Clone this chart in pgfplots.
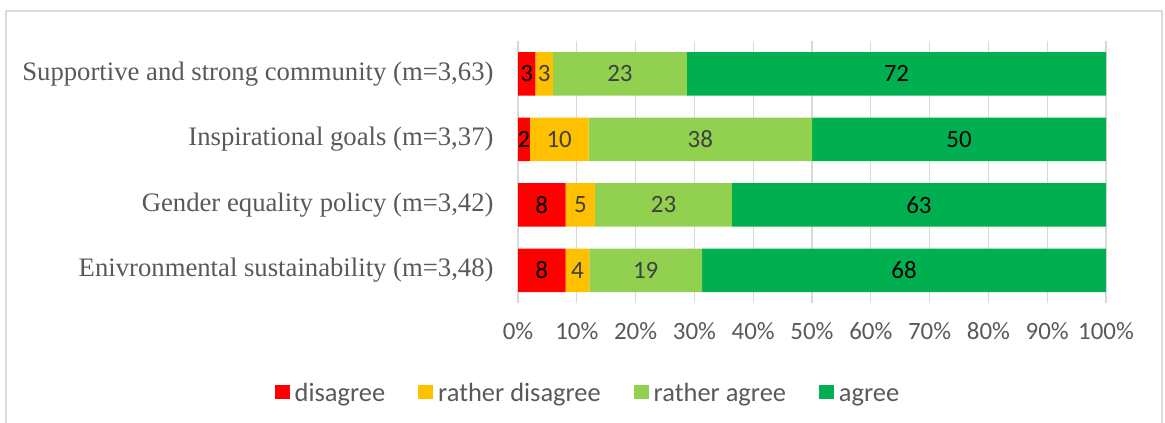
\documentclass[border=0pt]{standalone}
\usepackage{fontspec}
\setmainfont{Carlito}
\newfontfamily\catfont{Liberation Serif}
\usepackage{pgfplots}
\pgfplotsset{compat=1.18}
\usepackage{pgfplotstable}

\definecolor{cDis}{HTML}{FF0000}
\definecolor{cRDis}{HTML}{FFC000}
\definecolor{cRAg}{HTML}{92D050}
\definecolor{cAg}{HTML}{00B050}
\definecolor{txt}{HTML}{595959}
\definecolor{lbl}{HTML}{404040}
\definecolor{gridc}{HTML}{D9D9D9}

% answers per statement (percent of respondents)
\pgfplotstableread{
y d rd ra a
0 8 4 19 68
1 8 5 23 63
2 2 10 38 50
3 3 3 23 72
}\survey

% row total, used to scale each row to 100%
\newcommand\tot{(\thisrow{d}+\thisrow{rd}+\thisrow{ra}+\thisrow{a})}

\pgfplotsset{
  panel/.style={
    at={(518bp,-303bp)}, anchor=south west, scale only axis,
    width=588bp, height=262bp,
    xmin=0, xmax=100, ymin=-0.5, ymax=3.5, clip=false,
  },
  seglabel/.style={draw=none, mark=none, forget plot,
    every node near coord/.append style={text=#1}},
}

\begin{document}
\begin{tikzpicture}
\useasboundingbox (0,0) rectangle (1165bp,-423bp);
\draw[gridc, line width=1.5bp] (6bp,-11bp) rectangle (1162bp,-440bp);

\begin{axis}[panel, xbar stacked, bar width=43.5bp,
  axis line style={draw=none}, major tick length=0pt,
  xmajorgrids, grid style={gridc, line width=1.2bp},
  xtick={0,10,...,100},
  xticklabels={0\%,10\%,20\%,30\%,40\%,50\%,60\%,70\%,80\%,90\%,100\%},
  ytick={0,1,2,3},
  yticklabels={{Enivronmental sustainability (m=3,48)},
               {Gender equality policy (m=3,42)},
               {Inspirational goals (m=3,37)},
               {Supportive and strong community (m=3,63)}},
  yticklabel style={font=\catfont\fontsize{26.8}{30}\selectfont, text=txt, xshift=-21bp},
  xticklabel style={font=\fontsize{25}{29}\selectfont, text=txt, yshift=-16bp},
  legend columns=4,
  legend style={at={(0.119,-0.351)}, anchor=center, draw=none,
    font=\fontsize{26.5}{31}\selectfont, text=txt,
    nodes={text height=19bp, text depth=6bp},
    /tikz/every odd column/.append style={column sep=3bp},
    /tikz/every even column/.append style={column sep=31bp}},
  legend image code/.code={\fill[#1] (0bp,-4bp) rectangle (15bp,10bp);},
]
\addplot[fill=cDis, draw=none] table[x expr={100*\thisrow{d}/\tot}, y=y] \survey;
\addplot[fill=cRDis, draw=none] table[x expr={100*\thisrow{rd}/\tot}, y=y] \survey;
\addplot[fill=cRAg, draw=none] table[x expr={100*\thisrow{ra}/\tot}, y=y] \survey;
\addplot[fill=cAg, draw=none] table[x expr={100*\thisrow{a}/\tot}, y=y] \survey;
\legend{disagree, rather disagree, rather agree, agree}
\end{axis}

% value labels centred in each segment
\begin{axis}[panel, hide axis, point meta=explicit symbolic, nodes near coords,
  every node near coord/.append style={anchor=center, font=\fontsize{25}{29}\selectfont}]
\addplot[seglabel=black] table[x expr={100*(0.5*\thisrow{d})/\tot}, y=y, meta=d] \survey;
\addplot[seglabel=lbl] table[x expr={100*(\thisrow{d}+0.5*\thisrow{rd})/\tot}, y=y, meta=rd] \survey;
\addplot[seglabel=lbl] table[x expr={100*(\thisrow{d}+\thisrow{rd}+0.5*\thisrow{ra})/\tot}, y=y, meta=ra] \survey;
\addplot[seglabel=black] table[x expr={100*(\thisrow{d}+\thisrow{rd}+\thisrow{ra}+0.5*\thisrow{a})/\tot}, y=y, meta=a] \survey;
\end{axis}
\end{tikzpicture}
\end{document}
